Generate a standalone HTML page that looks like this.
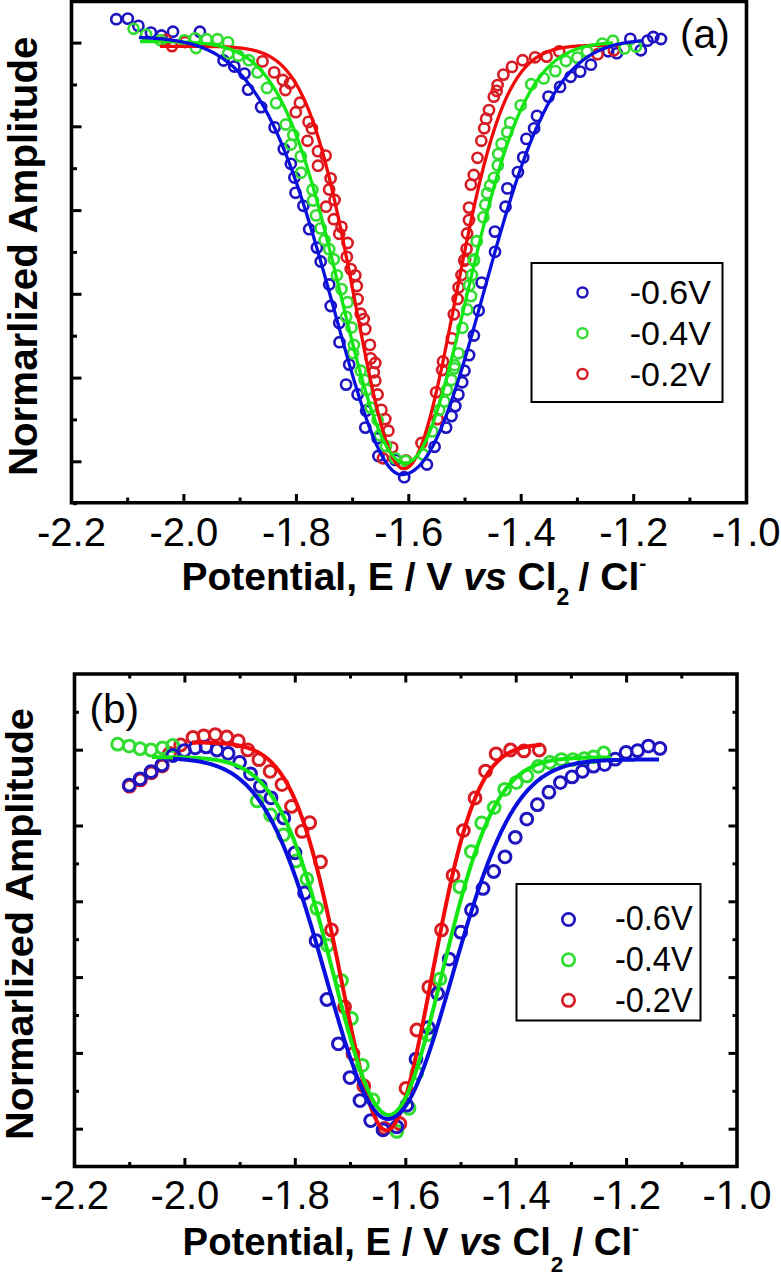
<!DOCTYPE html>
<html><head><meta charset="utf-8"><style>html,body{margin:0;padding:0;background:#fff;}svg{display:block;}text{font-family:"Liberation Sans",sans-serif;}</style></head><body>
<svg width="781" height="1280" viewBox="0 0 781 1280" font-family="Liberation Sans, sans-serif">
<g>
<rect width="781" height="1280" fill="#fff"/>
<g fill="none" stroke="#1e14c0" stroke-width="2.6"><circle cx="116.3" cy="19.2" r="5.1"/><circle cx="127.8" cy="18.6" r="5.1"/><circle cx="138.4" cy="25.9" r="5.1"/><circle cx="150.9" cy="32.6" r="5.1"/><circle cx="161.5" cy="35.5" r="5.1"/><circle cx="173.0" cy="31.7" r="5.1"/><circle cx="199.9" cy="31.7" r="5.1"/><circle cx="223.6" cy="60.5" r="5.1"/><circle cx="234.3" cy="66.5" r="5.1"/><circle cx="244.5" cy="73.6" r="5.1"/><circle cx="248.1" cy="89.6" r="5.1"/><circle cx="261.1" cy="107.1" r="5.1"/><circle cx="274.6" cy="127.4" r="5.1"/><circle cx="283.8" cy="149.1" r="5.1"/><circle cx="290.8" cy="163.8" r="5.1"/><circle cx="294.4" cy="177.5" r="5.1"/><circle cx="295.5" cy="192.8" r="5.1"/><circle cx="303.4" cy="205.8" r="5.1"/><circle cx="309.2" cy="229.2" r="5.1"/><circle cx="316.9" cy="247.6" r="5.1"/><circle cx="320.7" cy="261.5" r="5.1"/><circle cx="329.2" cy="284.5" r="5.1"/><circle cx="330.7" cy="306.0" r="5.1"/><circle cx="339.2" cy="322.9" r="5.1"/><circle cx="339.5" cy="342.2" r="5.1"/><circle cx="349.2" cy="364.6" r="5.1"/><circle cx="346.1" cy="384.6" r="5.1"/><circle cx="357.6" cy="394.5" r="5.1"/><circle cx="366.1" cy="410.7" r="5.1"/><circle cx="365.3" cy="427.6" r="5.1"/><circle cx="377.6" cy="438.3" r="5.1"/><circle cx="378.4" cy="456.0" r="5.1"/><circle cx="395.3" cy="459.9" r="5.1"/><circle cx="404.2" cy="477.2" r="5.1"/><circle cx="426.9" cy="464.5" r="5.1"/><circle cx="434.6" cy="446.8" r="5.1"/><circle cx="446.1" cy="427.6" r="5.1"/><circle cx="451.5" cy="416.1" r="5.1"/><circle cx="455.3" cy="406.1" r="5.1"/><circle cx="458.4" cy="394.6" r="5.1"/><circle cx="462.2" cy="382.3" r="5.1"/><circle cx="464.5" cy="370.7" r="5.1"/><circle cx="469.1" cy="355.1" r="5.1"/><circle cx="473.9" cy="335.5" r="5.1"/><circle cx="478.7" cy="310.5" r="5.1"/><circle cx="481.6" cy="282.6" r="5.1"/><circle cx="495.0" cy="251.8" r="5.1"/><circle cx="494.9" cy="231.6" r="5.1"/><circle cx="505.5" cy="206.7" r="5.1"/><circle cx="507.4" cy="188.4" r="5.1"/><circle cx="517.9" cy="172.1" r="5.1"/><circle cx="523.2" cy="157.4" r="5.1"/><circle cx="526.4" cy="138.9" r="5.1"/><circle cx="534.1" cy="128.3" r="5.1"/><circle cx="537.0" cy="115.9" r="5.1"/><circle cx="548.5" cy="96.6" r="5.1"/><circle cx="560.1" cy="86.9" r="5.1"/><circle cx="570.6" cy="76.8" r="5.1"/><circle cx="580.2" cy="71.6" r="5.1"/><circle cx="590.9" cy="64.7" r="5.1"/><circle cx="608.2" cy="51.3" r="5.1"/><circle cx="616.8" cy="53.2" r="5.1"/><circle cx="630.3" cy="38.8" r="5.1"/><circle cx="640.8" cy="50.3" r="5.1"/><circle cx="647.5" cy="40.7" r="5.1"/><circle cx="653.3" cy="37.0" r="5.1"/><circle cx="661.0" cy="39.0" r="5.1"/></g>
<g fill="none" stroke="#d81c24" stroke-width="2.6"><circle cx="166.0" cy="40.0" r="5.1"/><circle cx="172.0" cy="46.1" r="5.1"/><circle cx="185.0" cy="42.0" r="5.1"/><circle cx="262.5" cy="61.4" r="5.1"/><circle cx="274.2" cy="72.4" r="5.1"/><circle cx="282.8" cy="80.0" r="5.1"/><circle cx="290.2" cy="83.1" r="5.1"/><circle cx="285.4" cy="90.0" r="5.1"/><circle cx="299.9" cy="102.7" r="5.1"/><circle cx="295.8" cy="112.2" r="5.1"/><circle cx="308.5" cy="121.9" r="5.1"/><circle cx="311.9" cy="128.4" r="5.1"/><circle cx="307.5" cy="140.8" r="5.1"/><circle cx="318.0" cy="151.2" r="5.1"/><circle cx="325.6" cy="155.6" r="5.1"/><circle cx="318.0" cy="165.7" r="5.1"/><circle cx="330.6" cy="178.3" r="5.1"/><circle cx="329.1" cy="189.5" r="5.1"/><circle cx="334.6" cy="200.0" r="5.1"/><circle cx="326.0" cy="206.7" r="5.1"/><circle cx="333.8" cy="219.2" r="5.1"/><circle cx="341.5" cy="226.9" r="5.1"/><circle cx="339.2" cy="233.8" r="5.1"/><circle cx="347.6" cy="243.0" r="5.1"/><circle cx="346.8" cy="256.9" r="5.1"/><circle cx="350.7" cy="269.1" r="5.1"/><circle cx="355.3" cy="275.3" r="5.1"/><circle cx="356.8" cy="286.0" r="5.1"/><circle cx="357.6" cy="299.1" r="5.1"/><circle cx="360.7" cy="313.7" r="5.1"/><circle cx="363.7" cy="319.1" r="5.1"/><circle cx="365.3" cy="329.1" r="5.1"/><circle cx="369.9" cy="344.9" r="5.1"/><circle cx="370.7" cy="358.4" r="5.1"/><circle cx="375.3" cy="363.0" r="5.1"/><circle cx="373.8" cy="372.3" r="5.1"/><circle cx="375.3" cy="380.7" r="5.1"/><circle cx="377.6" cy="394.5" r="5.1"/><circle cx="381.4" cy="409.9" r="5.1"/><circle cx="385.3" cy="419.1" r="5.1"/><circle cx="388.4" cy="430.7" r="5.1"/><circle cx="392.2" cy="447.6" r="5.1"/><circle cx="383.0" cy="458.3" r="5.1"/><circle cx="406.0" cy="460.3" r="5.1"/><circle cx="421.5" cy="443.0" r="5.1"/><circle cx="436.1" cy="392.3" r="5.1"/><circle cx="437.6" cy="419.1" r="5.1"/><circle cx="443.0" cy="361.5" r="5.1"/><circle cx="442.2" cy="370.0" r="5.1"/><circle cx="451.9" cy="338.3" r="5.1"/><circle cx="453.8" cy="314.3" r="5.1"/><circle cx="457.6" cy="299.0" r="5.1"/><circle cx="458.6" cy="287.4" r="5.1"/><circle cx="461.5" cy="275.0" r="5.1"/><circle cx="464.3" cy="260.6" r="5.1"/><circle cx="465.1" cy="259.5" r="5.1"/><circle cx="466.6" cy="248.9" r="5.1"/><circle cx="467.1" cy="233.5" r="5.1"/><circle cx="469.0" cy="220.1" r="5.1"/><circle cx="469.0" cy="207.6" r="5.1"/><circle cx="470.9" cy="184.6" r="5.1"/><circle cx="473.8" cy="175.0" r="5.1"/><circle cx="477.5" cy="157.8" r="5.1"/><circle cx="481.3" cy="140.8" r="5.1"/><circle cx="484.2" cy="128.3" r="5.1"/><circle cx="486.1" cy="118.7" r="5.1"/><circle cx="489.0" cy="110.1" r="5.1"/><circle cx="493.8" cy="96.7" r="5.1"/><circle cx="496.7" cy="90.9" r="5.1"/><circle cx="497.6" cy="85.1" r="5.1"/><circle cx="503.4" cy="74.6" r="5.1"/><circle cx="512.0" cy="66.9" r="5.1"/><circle cx="522.6" cy="60.2" r="5.1"/><circle cx="535.1" cy="57.3" r="5.1"/><circle cx="546.6" cy="56.6" r="5.1"/><circle cx="559.2" cy="51.4" r="5.1"/><circle cx="597.6" cy="54.2" r="5.1"/><circle cx="613.9" cy="50.3" r="5.1"/></g>
<g fill="none" stroke="#32dc32" stroke-width="2.6"><circle cx="133.6" cy="28.8" r="5.1"/><circle cx="146.1" cy="34.6" r="5.1"/><circle cx="160.5" cy="40.3" r="5.1"/><circle cx="184.5" cy="40.3" r="5.1"/><circle cx="195.1" cy="38.4" r="5.1"/><circle cx="196.0" cy="48.0" r="5.1"/><circle cx="206.6" cy="39.2" r="5.1"/><circle cx="217.5" cy="39.2" r="5.1"/><circle cx="228.0" cy="42.4" r="5.1"/><circle cx="228.1" cy="53.6" r="5.1"/><circle cx="238.3" cy="55.7" r="5.1"/><circle cx="248.9" cy="60.2" r="5.1"/><circle cx="257.5" cy="72.4" r="5.1"/><circle cx="267.0" cy="88.0" r="5.1"/><circle cx="276.1" cy="103.1" r="5.1"/><circle cx="285.7" cy="124.5" r="5.1"/><circle cx="293.3" cy="135.0" r="5.1"/><circle cx="290.8" cy="144.5" r="5.1"/><circle cx="300.8" cy="156.4" r="5.1"/><circle cx="301.0" cy="172.7" r="5.1"/><circle cx="312.5" cy="189.7" r="5.1"/><circle cx="313.0" cy="200.5" r="5.1"/><circle cx="316.1" cy="215.4" r="5.1"/><circle cx="320.7" cy="228.4" r="5.1"/><circle cx="324.6" cy="240.0" r="5.1"/><circle cx="329.2" cy="249.2" r="5.1"/><circle cx="333.8" cy="259.2" r="5.1"/><circle cx="336.9" cy="275.3" r="5.1"/><circle cx="341.5" cy="289.1" r="5.1"/><circle cx="347.6" cy="302.2" r="5.1"/><circle cx="346.1" cy="316.8" r="5.1"/><circle cx="351.5" cy="327.5" r="5.1"/><circle cx="353.9" cy="345.0" r="5.1"/><circle cx="353.0" cy="353.1" r="5.1"/><circle cx="360.7" cy="370.7" r="5.1"/><circle cx="364.5" cy="380.0" r="5.1"/><circle cx="366.8" cy="389.9" r="5.1"/><circle cx="370.7" cy="407.6" r="5.1"/><circle cx="377.6" cy="419.9" r="5.1"/><circle cx="379.9" cy="435.3" r="5.1"/><circle cx="386.0" cy="446.0" r="5.1"/><circle cx="395.3" cy="458.3" r="5.1"/><circle cx="405.7" cy="461.0" r="5.1"/><circle cx="423.0" cy="454.5" r="5.1"/><circle cx="432.3" cy="431.4" r="5.1"/><circle cx="439.2" cy="410.0" r="5.1"/><circle cx="444.5" cy="401.5" r="5.1"/><circle cx="446.9" cy="390.0" r="5.1"/><circle cx="451.5" cy="380.0" r="5.1"/><circle cx="454.5" cy="368.4" r="5.1"/><circle cx="458.5" cy="353.3" r="5.1"/><circle cx="454.7" cy="365.2" r="5.1"/><circle cx="462.4" cy="327.8" r="5.1"/><circle cx="467.2" cy="309.5" r="5.1"/><circle cx="471.1" cy="296.1" r="5.1"/><circle cx="469.1" cy="285.5" r="5.1"/><circle cx="472.0" cy="275.0" r="5.1"/><circle cx="473.9" cy="260.6" r="5.1"/><circle cx="473.8" cy="259.5" r="5.1"/><circle cx="476.7" cy="241.2" r="5.1"/><circle cx="483.4" cy="217.2" r="5.1"/><circle cx="485.3" cy="204.7" r="5.1"/><circle cx="487.2" cy="193.2" r="5.1"/><circle cx="490.1" cy="185.5" r="5.1"/><circle cx="493.9" cy="177.8" r="5.1"/><circle cx="497.8" cy="165.4" r="5.1"/><circle cx="498.2" cy="154.0" r="5.1"/><circle cx="501.5" cy="143.7" r="5.1"/><circle cx="507.2" cy="132.2" r="5.1"/><circle cx="510.1" cy="122.6" r="5.1"/><circle cx="520.7" cy="105.3" r="5.1"/><circle cx="531.2" cy="84.2" r="5.1"/><circle cx="543.7" cy="78.4" r="5.1"/><circle cx="555.3" cy="71.1" r="5.1"/><circle cx="565.9" cy="61.0" r="5.1"/><circle cx="577.4" cy="57.6" r="5.1"/><circle cx="587.0" cy="51.4" r="5.1"/><circle cx="602.4" cy="43.6" r="5.1"/><circle cx="613.0" cy="40.7" r="5.1"/><circle cx="624.5" cy="48.4" r="5.1"/><circle cx="636.0" cy="46.5" r="5.1"/></g>
<path d="M160.0,46.3 L161.0,46.3 L162.0,46.3 L163.0,46.3 L164.0,46.3 L165.0,46.3 L166.0,46.3 L167.0,46.3 L168.0,46.3 L169.0,46.3 L170.0,46.3 L171.0,46.3 L172.0,46.3 L173.0,46.3 L174.0,46.3 L175.0,46.3 L176.0,46.3 L177.0,46.3 L178.0,46.3 L179.0,46.3 L180.0,46.3 L181.0,46.3 L182.0,46.3 L183.0,46.3 L184.0,46.3 L185.0,46.3 L186.0,46.3 L187.0,46.3 L188.0,46.3 L189.0,46.4 L190.0,46.4 L191.0,46.4 L192.0,46.4 L193.0,46.4 L194.0,46.4 L195.0,46.4 L196.0,46.4 L197.0,46.4 L198.0,46.4 L199.0,46.4 L200.0,46.4 L201.0,46.4 L202.0,46.4 L203.0,46.4 L204.0,46.4 L205.0,46.4 L206.0,46.5 L207.0,46.5 L208.0,46.5 L209.0,46.5 L210.0,46.5 L211.0,46.5 L212.0,46.5 L213.0,46.6 L214.0,46.6 L215.0,46.6 L216.0,46.6 L217.0,46.6 L218.0,46.7 L219.0,46.7 L220.0,46.7 L221.0,46.7 L222.0,46.8 L223.0,46.8 L224.0,46.9 L225.0,46.9 L226.0,46.9 L227.0,47.0 L228.0,47.0 L229.0,47.1 L230.0,47.1 L231.0,47.2 L232.0,47.3 L233.0,47.3 L234.0,47.4 L235.0,47.5 L236.0,47.6 L237.0,47.7 L238.0,47.8 L239.0,47.9 L240.0,48.0 L241.0,48.1 L242.0,48.2 L243.0,48.3 L244.0,48.5 L245.0,48.6 L246.0,48.8 L247.0,48.9 L248.0,49.1 L249.0,49.3 L250.0,49.5 L251.0,49.7 L252.0,49.9 L253.0,50.1 L254.0,50.4 L255.0,50.6 L256.0,50.9 L257.0,51.2 L258.0,51.5 L259.0,51.8 L260.0,52.1 L261.0,52.5 L262.0,52.8 L263.0,53.2 L264.0,53.6 L265.0,54.1 L266.0,54.5 L267.0,55.0 L268.0,55.5 L269.0,56.0 L270.0,56.6 L271.0,57.2 L272.0,57.8 L273.0,58.4 L274.0,59.1 L275.0,59.8 L276.0,60.5 L277.0,61.2 L278.0,62.0 L279.0,62.9 L280.0,63.7 L281.0,64.7 L282.0,65.6 L283.0,66.6 L284.0,67.6 L285.0,68.7 L286.0,69.8 L287.0,71.0 L288.0,72.2 L289.0,73.5 L290.0,74.8 L291.0,76.1 L292.0,77.5 L293.0,79.0 L294.0,80.5 L295.0,82.1 L296.0,83.8 L297.0,85.5 L298.0,87.2 L299.0,89.0 L300.0,90.9 L301.0,92.9 L302.0,94.9 L303.0,96.9 L304.0,99.1 L305.0,101.3 L306.0,103.6 L307.0,105.9 L308.0,108.4 L309.0,110.9 L310.0,113.4 L311.0,116.1 L312.0,118.8 L313.0,121.6 L314.0,124.5 L315.0,127.4 L316.0,130.4 L317.0,133.5 L318.0,136.7 L319.0,140.0 L320.0,143.3 L321.0,146.7 L322.0,150.2 L323.0,153.8 L324.0,157.4 L325.0,161.2 L326.0,165.0 L327.0,168.8 L328.0,172.8 L329.0,176.8 L330.0,180.9 L331.0,185.1 L332.0,189.3 L333.0,193.6 L334.0,198.0 L335.0,202.4 L336.0,207.0 L337.0,211.5 L338.0,216.2 L339.0,220.8 L340.0,225.6 L341.0,230.4 L342.0,235.2 L343.0,240.1 L344.0,245.1 L345.0,250.1 L346.0,255.1 L347.0,260.2 L348.0,265.3 L349.0,270.4 L350.0,275.5 L351.0,280.7 L352.0,285.9 L353.0,291.1 L354.0,296.3 L355.0,301.5 L356.0,306.8 L357.0,312.0 L358.0,317.2 L359.0,322.4 L360.0,327.6 L361.0,332.7 L362.0,337.9 L363.0,343.0 L364.0,348.1 L365.0,353.1 L366.0,358.1 L367.0,363.0 L368.0,367.9 L369.0,372.7 L370.0,377.5 L371.0,382.2 L372.0,386.8 L373.0,391.3 L374.0,395.8 L375.0,400.2 L376.0,404.4 L377.0,408.6 L378.0,412.7 L379.0,416.6 L380.0,420.5 L381.0,424.2 L382.0,427.8 L383.0,431.3 L384.0,434.6 L385.0,437.8 L386.0,440.9 L387.0,443.8 L388.0,446.6 L389.0,449.2 L390.0,451.7 L391.0,454.0 L392.0,456.2 L393.0,458.2 L394.0,460.0 L395.0,461.7 L396.0,463.2 L397.0,464.5 L398.0,465.6 L399.0,466.6 L400.0,467.4 L401.0,468.0 L402.0,468.4 L403.0,468.7 L404.0,468.7 L405.0,468.6 L406.0,468.4 L407.0,468.0 L408.0,467.4 L409.0,466.7 L410.0,465.9 L411.0,464.8 L412.0,463.7 L413.0,462.3 L414.0,460.9 L415.0,459.2 L416.0,457.4 L417.0,455.5 L418.0,453.4 L419.0,451.2 L420.0,448.8 L421.0,446.3 L422.0,443.6 L423.0,440.8 L424.0,437.9 L425.0,434.8 L426.0,431.6 L427.0,428.3 L428.0,424.9 L429.0,421.3 L430.0,417.6 L431.0,413.8 L432.0,409.9 L433.0,405.9 L434.0,401.8 L435.0,397.7 L436.0,393.4 L437.0,389.0 L438.0,384.6 L439.0,380.0 L440.0,375.4 L441.0,370.8 L442.0,366.0 L443.0,361.3 L444.0,356.4 L445.0,351.5 L446.0,346.6 L447.0,341.6 L448.0,336.6 L449.0,331.5 L450.0,326.5 L451.0,321.4 L452.0,316.2 L453.0,311.1 L454.0,306.0 L455.0,300.8 L456.0,295.7 L457.0,290.5 L458.0,285.4 L459.0,280.3 L460.0,275.2 L461.0,270.1 L462.0,265.0 L463.0,260.0 L464.0,255.0 L465.0,250.0 L466.0,245.0 L467.0,240.1 L468.0,235.3 L469.0,230.4 L470.0,225.7 L471.0,220.9 L472.0,216.3 L473.0,211.7 L474.0,207.1 L475.0,202.6 L476.0,198.2 L477.0,193.8 L478.0,189.5 L479.0,185.2 L480.0,181.1 L481.0,177.0 L482.0,172.9 L483.0,169.0 L484.0,165.1 L485.0,161.3 L486.0,157.5 L487.0,153.9 L488.0,150.3 L489.0,146.7 L490.0,143.3 L491.0,139.9 L492.0,136.7 L493.0,133.5 L494.0,130.3 L495.0,127.3 L496.0,124.3 L497.0,121.4 L498.0,118.6 L499.0,115.8 L500.0,113.1 L501.0,110.5 L502.0,108.0 L503.0,105.5 L504.0,103.2 L505.0,100.8 L506.0,98.6 L507.0,96.4 L508.0,94.3 L509.0,92.3 L510.0,90.3 L511.0,88.4 L512.0,86.5 L513.0,84.8 L514.0,83.0 L515.0,81.4 L516.0,79.8 L517.0,78.2 L518.0,76.7 L519.0,75.3 L520.0,73.9 L521.0,72.6 L522.0,71.3 L523.0,70.0 L524.0,68.9 L525.0,67.7 L526.0,66.6 L527.0,65.6 L528.0,64.6 L529.0,63.6 L530.0,62.7 L531.0,61.8 L532.0,61.0 L533.0,60.1 L534.0,59.4 L535.0,58.6 L536.0,57.9 L537.0,57.2 L538.0,56.6 L539.0,56.0 L540.0,55.4 L541.0,54.8 L542.0,54.3 L543.0,53.8 L544.0,53.3 L545.0,52.9 L546.0,52.4 L547.0,52.0 L548.0,51.6 L549.0,51.2 L550.0,50.9 L551.0,50.6 L552.0,50.2 L553.0,49.9 L554.0,49.6 L555.0,49.4 L556.0,49.1 L557.0,48.9 L558.0,48.7 L559.0,48.4 L560.0,48.2 L561.0,48.0 L562.0,47.9 L563.0,47.7 L564.0,47.5 L565.0,47.4 L566.0,47.2 L567.0,47.1 L568.0,47.0 L569.0,46.8 L570.0,46.7 L571.0,46.6 L572.0,46.5 L573.0,46.4 L574.0,46.3 L575.0,46.3 L576.0,46.2 L577.0,46.1 L578.0,46.0 L579.0,46.0 L580.0,45.9 L581.0,45.9 L582.0,45.8 L583.0,45.8 L584.0,45.7 L585.0,45.7 L586.0,45.6 L587.0,45.6 L588.0,45.6 L589.0,45.5 L590.0,45.5 L591.0,45.5 L592.0,45.5 L593.0,45.4 L594.0,45.4 L595.0,45.4 L596.0,45.4 L597.0,45.4 L598.0,45.3 L599.0,45.3 L600.0,45.3 L601.0,45.3 L602.0,45.3 L603.0,45.3 L604.0,45.3 L605.0,45.3 L606.0,45.2 L607.0,45.2" fill="none" stroke="#f00a0a" stroke-width="3.3" stroke-linejoin="round" stroke-linecap="butt"/>
<path d="M140.0,41.5 L141.0,41.5 L142.0,41.5 L143.0,41.5 L144.0,41.5 L145.0,41.5 L146.0,41.5 L147.0,41.5 L148.0,41.5 L149.0,41.5 L150.0,41.5 L151.0,41.5 L152.0,41.5 L153.0,41.5 L154.0,41.5 L155.0,41.5 L156.0,41.6 L157.0,41.6 L158.0,41.6 L159.0,41.6 L160.0,41.6 L161.0,41.6 L162.0,41.6 L163.0,41.6 L164.0,41.6 L165.0,41.6 L166.0,41.7 L167.0,41.7 L168.0,41.7 L169.0,41.7 L170.0,41.7 L171.0,41.7 L172.0,41.8 L173.0,41.8 L174.0,41.8 L175.0,41.8 L176.0,41.8 L177.0,41.9 L178.0,41.9 L179.0,41.9 L180.0,41.9 L181.0,42.0 L182.0,42.0 L183.0,42.1 L184.0,42.1 L185.0,42.1 L186.0,42.2 L187.0,42.2 L188.0,42.3 L189.0,42.3 L190.0,42.4 L191.0,42.4 L192.0,42.5 L193.0,42.5 L194.0,42.6 L195.0,42.7 L196.0,42.7 L197.0,42.8 L198.0,42.9 L199.0,43.0 L200.0,43.1 L201.0,43.2 L202.0,43.3 L203.0,43.4 L204.0,43.5 L205.0,43.6 L206.0,43.7 L207.0,43.8 L208.0,44.0 L209.0,44.1 L210.0,44.2 L211.0,44.4 L212.0,44.6 L213.0,44.7 L214.0,44.9 L215.0,45.1 L216.0,45.3 L217.0,45.5 L218.0,45.7 L219.0,45.9 L220.0,46.1 L221.0,46.4 L222.0,46.6 L223.0,46.9 L224.0,47.2 L225.0,47.5 L226.0,47.8 L227.0,48.1 L228.0,48.4 L229.0,48.7 L230.0,49.1 L231.0,49.5 L232.0,49.8 L233.0,50.2 L234.0,50.7 L235.0,51.1 L236.0,51.6 L237.0,52.0 L238.0,52.5 L239.0,53.0 L240.0,53.5 L241.0,54.1 L242.0,54.7 L243.0,55.3 L244.0,55.9 L245.0,56.5 L246.0,57.2 L247.0,57.8 L248.0,58.6 L249.0,59.3 L250.0,60.0 L251.0,60.8 L252.0,61.6 L253.0,62.5 L254.0,63.4 L255.0,64.3 L256.0,65.2 L257.0,66.2 L258.0,67.1 L259.0,68.2 L260.0,69.2 L261.0,70.3 L262.0,71.5 L263.0,72.6 L264.0,73.8 L265.0,75.0 L266.0,76.3 L267.0,77.6 L268.0,79.0 L269.0,80.4 L270.0,81.8 L271.0,83.3 L272.0,84.8 L273.0,86.3 L274.0,87.9 L275.0,89.5 L276.0,91.2 L277.0,93.0 L278.0,94.7 L279.0,96.5 L280.0,98.4 L281.0,100.3 L282.0,102.2 L283.0,104.2 L284.0,106.3 L285.0,108.4 L286.0,110.5 L287.0,112.7 L288.0,115.0 L289.0,117.2 L290.0,119.6 L291.0,122.0 L292.0,124.4 L293.0,126.9 L294.0,129.4 L295.0,132.0 L296.0,134.7 L297.0,137.3 L298.0,140.1 L299.0,142.9 L300.0,145.7 L301.0,148.6 L302.0,151.5 L303.0,154.5 L304.0,157.5 L305.0,160.6 L306.0,163.7 L307.0,166.9 L308.0,170.1 L309.0,173.4 L310.0,176.7 L311.0,180.1 L312.0,183.5 L313.0,186.9 L314.0,190.4 L315.0,193.9 L316.0,197.5 L317.0,201.1 L318.0,204.8 L319.0,208.5 L320.0,212.2 L321.0,215.9 L322.0,219.7 L323.0,223.6 L324.0,227.4 L325.0,231.3 L326.0,235.2 L327.0,239.1 L328.0,243.1 L329.0,247.1 L330.0,251.1 L331.0,255.1 L332.0,259.2 L333.0,263.2 L334.0,267.3 L335.0,271.4 L336.0,275.5 L337.0,279.6 L338.0,283.7 L339.0,287.9 L340.0,292.0 L341.0,296.1 L342.0,300.2 L343.0,304.3 L344.0,308.5 L345.0,312.6 L346.0,316.7 L347.0,320.7 L348.0,324.8 L349.0,328.9 L350.0,332.9 L351.0,336.9 L352.0,340.9 L353.0,344.8 L354.0,348.7 L355.0,352.6 L356.0,356.5 L357.0,360.3 L358.0,364.1 L359.0,367.8 L360.0,371.5 L361.0,375.2 L362.0,378.8 L363.0,382.4 L364.0,385.9 L365.0,389.3 L366.0,392.7 L367.0,396.0 L368.0,399.3 L369.0,402.5 L370.0,405.7 L371.0,408.7 L372.0,411.7 L373.0,414.7 L374.0,417.5 L375.0,420.3 L376.0,423.0 L377.0,425.6 L378.0,428.2 L379.0,430.7 L380.0,433.1 L381.0,435.4 L382.0,437.6 L383.0,439.7 L384.0,441.7 L385.0,443.7 L386.0,445.5 L387.0,447.3 L388.0,449.0 L389.0,450.6 L390.0,452.1 L391.0,453.4 L392.0,454.7 L393.0,455.9 L394.0,457.0 L395.0,458.1 L396.0,459.0 L397.0,459.8 L398.0,460.5 L399.0,461.1 L400.0,461.7 L401.0,462.1 L402.0,462.4 L403.0,462.7 L404.0,462.8 L405.0,462.9 L406.0,462.9 L407.0,462.8 L408.0,462.6 L409.0,462.3 L410.0,461.8 L411.0,461.3 L412.0,460.6 L413.0,459.9 L414.0,459.0 L415.0,458.0 L416.0,457.0 L417.0,455.8 L418.0,454.5 L419.0,453.1 L420.0,451.6 L421.0,449.9 L422.0,448.2 L423.0,446.4 L424.0,444.5 L425.0,442.5 L426.0,440.3 L427.0,438.1 L428.0,435.8 L429.0,433.4 L430.0,430.9 L431.0,428.3 L432.0,425.7 L433.0,422.9 L434.0,420.1 L435.0,417.1 L436.0,414.1 L437.0,411.0 L438.0,407.9 L439.0,404.7 L440.0,401.4 L441.0,398.0 L442.0,394.6 L443.0,391.1 L444.0,387.5 L445.0,383.9 L446.0,380.2 L447.0,376.5 L448.0,372.7 L449.0,368.9 L450.0,365.0 L451.0,361.1 L452.0,357.1 L453.0,353.1 L454.0,349.1 L455.0,345.0 L456.0,341.0 L457.0,336.8 L458.0,332.7 L459.0,328.5 L460.0,324.3 L461.0,320.1 L462.0,315.9 L463.0,311.7 L464.0,307.5 L465.0,303.2 L466.0,299.0 L467.0,294.7 L468.0,290.5 L469.0,286.2 L470.0,282.0 L471.0,277.7 L472.0,273.5 L473.0,269.3 L474.0,265.1 L475.0,260.9 L476.0,256.8 L477.0,252.6 L478.0,248.5 L479.0,244.4 L480.0,240.3 L481.0,236.3 L482.0,232.2 L483.0,228.3 L484.0,224.3 L485.0,220.4 L486.0,216.5 L487.0,212.6 L488.0,208.8 L489.0,205.0 L490.0,201.3 L491.0,197.6 L492.0,194.0 L493.0,190.4 L494.0,186.8 L495.0,183.3 L496.0,179.8 L497.0,176.4 L498.0,173.0 L499.0,169.7 L500.0,166.4 L501.0,163.2 L502.0,160.0 L503.0,156.8 L504.0,153.8 L505.0,150.7 L506.0,147.8 L507.0,144.8 L508.0,142.0 L509.0,139.2 L510.0,136.4 L511.0,133.7 L512.0,131.0 L513.0,128.4 L514.0,125.8 L515.0,123.3 L516.0,120.9 L517.0,118.5 L518.0,116.1 L519.0,113.8 L520.0,111.6 L521.0,109.4 L522.0,107.3 L523.0,105.2 L524.0,103.1 L525.0,101.1 L526.0,99.2 L527.0,97.3 L528.0,95.4 L529.0,93.6 L530.0,91.8 L531.0,90.1 L532.0,88.5 L533.0,86.8 L534.0,85.3 L535.0,83.7 L536.0,82.2 L537.0,80.8 L538.0,79.4 L539.0,78.0 L540.0,76.7 L541.0,75.4 L542.0,74.1 L543.0,72.9 L544.0,71.8 L545.0,70.6 L546.0,69.5 L547.0,68.4 L548.0,67.4 L549.0,66.4 L550.0,65.4 L551.0,64.5 L552.0,63.6 L553.0,62.7 L554.0,61.9 L555.0,61.0 L556.0,60.2 L557.0,59.5 L558.0,58.8 L559.0,58.0 L560.0,57.4 L561.0,56.7 L562.0,56.1 L563.0,55.4 L564.0,54.9 L565.0,54.3 L566.0,53.7 L567.0,53.2 L568.0,52.7 L569.0,52.2 L570.0,51.8 L571.0,51.3 L572.0,50.9 L573.0,50.5 L574.0,50.1 L575.0,49.7 L576.0,49.3 L577.0,49.0 L578.0,48.6 L579.0,48.3 L580.0,48.0 L581.0,47.7 L582.0,47.4 L583.0,47.1 L584.0,46.9 L585.0,46.6 L586.0,46.4 L587.0,46.2 L588.0,46.0 L589.0,45.8 L590.0,45.6 L591.0,45.4 L592.0,45.2 L593.0,45.0 L594.0,44.9 L595.0,44.7 L596.0,44.5 L597.0,44.4 L598.0,44.3 L599.0,44.1 L600.0,44.0 L601.0,43.9 L602.0,43.8 L603.0,43.7 L604.0,43.6 L605.0,43.5 L606.0,43.4 L607.0,43.3 L608.0,43.2 L609.0,43.2 L610.0,43.1 L611.0,43.0 L612.0,42.9 L613.0,42.9" fill="none" stroke="#14e614" stroke-width="3.3" stroke-linejoin="round" stroke-linecap="butt"/>
<path d="M139.0,37.4 L140.0,37.5 L141.0,37.5 L142.0,37.6 L143.0,37.6 L144.0,37.7 L145.0,37.7 L146.0,37.8 L147.0,37.8 L148.0,37.9 L149.0,37.9 L150.0,38.0 L151.0,38.1 L152.0,38.1 L153.0,38.2 L154.0,38.3 L155.0,38.3 L156.0,38.4 L157.0,38.5 L158.0,38.6 L159.0,38.7 L160.0,38.7 L161.0,38.8 L162.0,38.9 L163.0,39.0 L164.0,39.1 L165.0,39.3 L166.0,39.4 L167.0,39.5 L168.0,39.6 L169.0,39.7 L170.0,39.9 L171.0,40.0 L172.0,40.1 L173.0,40.3 L174.0,40.4 L175.0,40.6 L176.0,40.7 L177.0,40.9 L178.0,41.1 L179.0,41.3 L180.0,41.4 L181.0,41.6 L182.0,41.8 L183.0,42.0 L184.0,42.3 L185.0,42.5 L186.0,42.7 L187.0,42.9 L188.0,43.2 L189.0,43.4 L190.0,43.7 L191.0,43.9 L192.0,44.2 L193.0,44.5 L194.0,44.8 L195.0,45.1 L196.0,45.4 L197.0,45.7 L198.0,46.1 L199.0,46.4 L200.0,46.8 L201.0,47.1 L202.0,47.5 L203.0,47.9 L204.0,48.3 L205.0,48.7 L206.0,49.2 L207.0,49.6 L208.0,50.0 L209.0,50.5 L210.0,51.0 L211.0,51.5 L212.0,52.0 L213.0,52.5 L214.0,53.0 L215.0,53.6 L216.0,54.2 L217.0,54.8 L218.0,55.4 L219.0,56.0 L220.0,56.6 L221.0,57.3 L222.0,57.9 L223.0,58.6 L224.0,59.3 L225.0,60.1 L226.0,60.8 L227.0,61.6 L228.0,62.4 L229.0,63.2 L230.0,64.0 L231.0,64.8 L232.0,65.7 L233.0,66.6 L234.0,67.5 L235.0,68.4 L236.0,69.4 L237.0,70.4 L238.0,71.4 L239.0,72.4 L240.0,73.5 L241.0,74.6 L242.0,75.7 L243.0,76.8 L244.0,78.0 L245.0,79.2 L246.0,80.4 L247.0,81.6 L248.0,82.9 L249.0,84.2 L250.0,85.5 L251.0,86.8 L252.0,88.2 L253.0,89.6 L254.0,91.1 L255.0,92.6 L256.0,94.1 L257.0,95.6 L258.0,97.2 L259.0,98.7 L260.0,100.4 L261.0,102.0 L262.0,103.7 L263.0,105.4 L264.0,107.2 L265.0,109.0 L266.0,110.8 L267.0,112.7 L268.0,114.6 L269.0,116.5 L270.0,118.4 L271.0,120.4 L272.0,122.5 L273.0,124.5 L274.0,126.6 L275.0,128.8 L276.0,130.9 L277.0,133.1 L278.0,135.4 L279.0,137.6 L280.0,139.9 L281.0,142.3 L282.0,144.7 L283.0,147.1 L284.0,149.5 L285.0,152.0 L286.0,154.5 L287.0,157.1 L288.0,159.7 L289.0,162.3 L290.0,164.9 L291.0,167.6 L292.0,170.4 L293.0,173.1 L294.0,175.9 L295.0,178.7 L296.0,181.6 L297.0,184.5 L298.0,187.4 L299.0,190.4 L300.0,193.4 L301.0,196.4 L302.0,199.4 L303.0,202.5 L304.0,205.6 L305.0,208.8 L306.0,212.0 L307.0,215.2 L308.0,218.4 L309.0,221.6 L310.0,224.9 L311.0,228.2 L312.0,231.5 L313.0,234.9 L314.0,238.3 L315.0,241.7 L316.0,245.1 L317.0,248.5 L318.0,252.0 L319.0,255.5 L320.0,259.0 L321.0,262.5 L322.0,266.0 L323.0,269.6 L324.0,273.1 L325.0,276.7 L326.0,280.3 L327.0,283.9 L328.0,287.5 L329.0,291.1 L330.0,294.8 L331.0,298.4 L332.0,302.0 L333.0,305.6 L334.0,309.3 L335.0,312.9 L336.0,316.6 L337.0,320.2 L338.0,323.8 L339.0,327.4 L340.0,331.1 L341.0,334.7 L342.0,338.3 L343.0,341.9 L344.0,345.4 L345.0,349.0 L346.0,352.6 L347.0,356.1 L348.0,359.6 L349.0,363.1 L350.0,366.6 L351.0,370.0 L352.0,373.4 L353.0,376.8 L354.0,380.2 L355.0,383.5 L356.0,386.8 L357.0,390.1 L358.0,393.3 L359.0,396.5 L360.0,399.7 L361.0,402.8 L362.0,405.9 L363.0,408.9 L364.0,411.9 L365.0,414.8 L366.0,417.7 L367.0,420.5 L368.0,423.3 L369.0,426.1 L370.0,428.7 L371.0,431.3 L372.0,433.9 L373.0,436.4 L374.0,438.8 L375.0,441.2 L376.0,443.5 L377.0,445.7 L378.0,447.9 L379.0,450.0 L380.0,452.0 L381.0,454.0 L382.0,455.8 L383.0,457.6 L384.0,459.3 L385.0,461.0 L386.0,462.5 L387.0,464.0 L388.0,465.4 L389.0,466.6 L390.0,467.9 L391.0,469.0 L392.0,470.0 L393.0,470.9 L394.0,471.7 L395.0,472.5 L396.0,473.1 L397.0,473.6 L398.0,474.0 L399.0,474.3 L400.0,474.5 L401.0,474.6 L402.0,474.6 L403.0,474.5 L404.0,474.4 L405.0,474.2 L406.0,474.0 L407.0,473.8 L408.0,473.5 L409.0,473.1 L410.0,472.7 L411.0,472.2 L412.0,471.6 L413.0,471.0 L414.0,470.4 L415.0,469.6 L416.0,468.8 L417.0,468.0 L418.0,467.1 L419.0,466.1 L420.0,465.0 L421.0,463.9 L422.0,462.8 L423.0,461.5 L424.0,460.2 L425.0,458.9 L426.0,457.4 L427.0,455.9 L428.0,454.4 L429.0,452.8 L430.0,451.1 L431.0,449.3 L432.0,447.5 L433.0,445.7 L434.0,443.7 L435.0,441.8 L436.0,439.7 L437.0,437.6 L438.0,435.4 L439.0,433.2 L440.0,430.9 L441.0,428.6 L442.0,426.2 L443.0,423.8 L444.0,421.3 L445.0,418.7 L446.0,416.1 L447.0,413.5 L448.0,410.8 L449.0,408.0 L450.0,405.2 L451.0,402.4 L452.0,399.5 L453.0,396.6 L454.0,393.6 L455.0,390.6 L456.0,387.5 L457.0,384.4 L458.0,381.3 L459.0,378.1 L460.0,374.9 L461.0,371.7 L462.0,368.4 L463.0,365.1 L464.0,361.8 L465.0,358.4 L466.0,355.0 L467.0,351.6 L468.0,348.2 L469.0,344.7 L470.0,341.3 L471.0,337.8 L472.0,334.3 L473.0,330.7 L474.0,327.2 L475.0,323.6 L476.0,320.1 L477.0,316.5 L478.0,312.9 L479.0,309.3 L480.0,305.7 L481.0,302.1 L482.0,298.5 L483.0,294.9 L484.0,291.2 L485.0,287.6 L486.0,284.0 L487.0,280.4 L488.0,276.8 L489.0,273.2 L490.0,269.6 L491.0,266.0 L492.0,262.4 L493.0,258.9 L494.0,255.3 L495.0,251.8 L496.0,248.2 L497.0,244.7 L498.0,241.2 L499.0,237.8 L500.0,234.3 L501.0,230.9 L502.0,227.5 L503.0,224.1 L504.0,220.7 L505.0,217.3 L506.0,214.0 L507.0,210.7 L508.0,207.5 L509.0,204.2 L510.0,201.0 L511.0,197.8 L512.0,194.6 L513.0,191.5 L514.0,188.4 L515.0,185.3 L516.0,182.3 L517.0,179.3 L518.0,176.3 L519.0,173.4 L520.0,170.5 L521.0,167.6 L522.0,164.8 L523.0,162.0 L524.0,159.3 L525.0,156.5 L526.0,153.8 L527.0,151.2 L528.0,148.6 L529.0,146.0 L530.0,143.5 L531.0,141.0 L532.0,138.5 L533.0,136.1 L534.0,133.7 L535.0,131.3 L536.0,129.0 L537.0,126.8 L538.0,124.5 L539.0,122.3 L540.0,120.2 L541.0,118.1 L542.0,116.0 L543.0,113.9 L544.0,111.9 L545.0,110.0 L546.0,108.0 L547.0,106.1 L548.0,104.3 L549.0,102.5 L550.0,100.7 L551.0,98.9 L552.0,97.2 L553.0,95.6 L554.0,93.9 L555.0,92.3 L556.0,90.8 L557.0,89.2 L558.0,87.7 L559.0,86.3 L560.0,84.8 L561.0,83.4 L562.0,82.1 L563.0,80.7 L564.0,79.4 L565.0,78.2 L566.0,76.9 L567.0,75.7 L568.0,74.6 L569.0,73.4 L570.0,72.3 L571.0,71.2 L572.0,70.1 L573.0,69.1 L574.0,68.1 L575.0,67.1 L576.0,66.2 L577.0,65.3 L578.0,64.4 L579.0,63.5 L580.0,62.6 L581.0,61.8 L582.0,61.0 L583.0,60.2 L584.0,59.5 L585.0,58.7 L586.0,58.0 L587.0,57.3 L588.0,56.7 L589.0,56.0 L590.0,55.4 L591.0,54.8 L592.0,54.2 L593.0,53.6 L594.0,53.1 L595.0,52.6 L596.0,52.0 L597.0,51.5 L598.0,51.0 L599.0,50.6 L600.0,50.1 L601.0,49.7 L602.0,49.3 L603.0,48.9 L604.0,48.5 L605.0,48.1 L606.0,47.7 L607.0,47.4 L608.0,47.0 L609.0,46.7 L610.0,46.4 L611.0,46.1 L612.0,45.8 L613.0,45.5 L614.0,45.2 L615.0,45.0 L616.0,44.7 L617.0,44.5 L618.0,44.2 L619.0,44.0 L620.0,43.8 L621.0,43.6 L622.0,43.4 L623.0,43.2 L624.0,43.0 L625.0,42.8 L626.0,42.7 L627.0,42.5 L628.0,42.3 L629.0,42.2 L630.0,42.1 L631.0,41.9 L632.0,41.8 L633.0,41.7 L634.0,41.5 L635.0,41.4 L636.0,41.3 L637.0,41.2 L638.0,41.1 L639.0,41.0 L640.0,40.9 L641.0,40.8 L642.0,40.7" fill="none" stroke="#0a10dc" stroke-width="3.3" stroke-linejoin="round" stroke-linecap="butt"/>
<g stroke="#000" stroke-width="3" fill="none"><line x1="73" y1="43.1" x2="81.5" y2="43.1"/><line x1="73" y1="126.8" x2="81.5" y2="126.8"/><line x1="73" y1="210.6" x2="81.5" y2="210.6"/><line x1="73" y1="294.3" x2="81.5" y2="294.3"/><line x1="73" y1="378.1" x2="81.5" y2="378.1"/><line x1="73" y1="461.8" x2="81.5" y2="461.8"/><line x1="73" y1="85.0" x2="77" y2="85.0"/><line x1="73" y1="168.7" x2="77" y2="168.7"/><line x1="73" y1="252.4" x2="77" y2="252.4"/><line x1="73" y1="336.2" x2="77" y2="336.2"/><line x1="73" y1="419.9" x2="77" y2="419.9"/><line x1="73" y1="503.7" x2="77" y2="503.7"/><line x1="183.9" y1="501.5" x2="183.9" y2="494"/><line x1="296.4" y1="501.5" x2="296.4" y2="494"/><line x1="408.8" y1="501.5" x2="408.8" y2="494"/><line x1="521.2" y1="501.5" x2="521.2" y2="494"/><line x1="633.7" y1="501.5" x2="633.7" y2="494"/><line x1="127.7" y1="501.5" x2="127.7" y2="497.5"/><line x1="240.1" y1="501.5" x2="240.1" y2="497.5"/><line x1="352.6" y1="501.5" x2="352.6" y2="497.5"/><line x1="465.0" y1="501.5" x2="465.0" y2="497.5"/><line x1="577.4" y1="501.5" x2="577.4" y2="497.5"/><line x1="689.9" y1="501.5" x2="689.9" y2="497.5"/></g>
<path d="M71.5,1.5 L746.5,1.5 L746.5,502.8 L71.5,502.8 Z" fill="none" stroke="#000" stroke-width="3.6"/>
<rect x="531.5" y="263" width="191" height="139" fill="#fff" stroke="#000" stroke-width="2"/><circle cx="582.5" cy="292.5" r="5.0" fill="none" stroke="#1e14c0" stroke-width="2.4"/><text x="629.7" y="304" font-size="34">-0.6V</text><circle cx="582.5" cy="333.2" r="5.0" fill="none" stroke="#32dc32" stroke-width="2.4"/><text x="629.7" y="344.7" font-size="34">-0.4V</text><circle cx="582.5" cy="374" r="5.0" fill="none" stroke="#d81c24" stroke-width="2.4"/><text x="629.7" y="385.5" font-size="34">-0.2V</text><text x="680" y="48.2" font-size="40.7">(a)</text>
<g font-size="40"><text x="71.5" y="545.5" text-anchor="middle">-2.2</text><text x="183.9" y="545.5" text-anchor="middle">-2.0</text><text x="296.4" y="545.5" text-anchor="middle">-1.8</text><rect x="276.42" y="541.98" width="8.72" height="5.02" fill="#fff"/><rect x="288.70" y="541.98" width="8.00" height="5.02" fill="#fff"/><text x="408.8" y="545.5" text-anchor="middle">-1.6</text><rect x="388.85" y="541.98" width="8.72" height="5.02" fill="#fff"/><rect x="401.13" y="541.98" width="8.00" height="5.02" fill="#fff"/><text x="521.2" y="545.5" text-anchor="middle">-1.4</text><rect x="501.28" y="541.98" width="8.72" height="5.02" fill="#fff"/><rect x="513.56" y="541.98" width="8.00" height="5.02" fill="#fff"/><text x="633.7" y="545.5" text-anchor="middle">-1.2</text><rect x="613.71" y="541.98" width="8.72" height="5.02" fill="#fff"/><rect x="625.99" y="541.98" width="8.00" height="5.02" fill="#fff"/><text x="746.1" y="545.5" text-anchor="middle">-1.0</text><rect x="726.14" y="541.98" width="8.72" height="5.02" fill="#fff"/><rect x="738.42" y="541.98" width="8.00" height="5.02" fill="#fff"/></g>
<text x="181.5" y="589.5" font-weight="bold" font-size="39">Potential, E / V <tspan font-style="italic">vs</tspan> Cl<tspan font-size="23" dy="15.5">2</tspan><tspan dy="-15.5" dx="-1.5"> / Cl</tspan><tspan font-size="21" dy="-20">-</tspan></text>
<text transform="translate(36.9,256.3) rotate(-90)" text-anchor="middle" font-weight="bold" font-size="40.3">Normarlized Amplitude</text>
<g fill="none" stroke="#d81c24" stroke-width="3.0"><circle cx="129.5" cy="786.2" r="5.9"/><circle cx="140.4" cy="779.9" r="5.9"/><circle cx="151.3" cy="772.8" r="5.9"/><circle cx="162.2" cy="766.1" r="5.9"/><circle cx="169.5" cy="753.5" r="5.9"/><circle cx="180.7" cy="745.0" r="5.9"/><circle cx="193.0" cy="737.5" r="5.9"/><circle cx="203.8" cy="735.8" r="5.9"/><circle cx="215.3" cy="734.6" r="5.9"/><circle cx="226.8" cy="737.0" r="5.9"/><circle cx="238.3" cy="740.9" r="5.9"/><circle cx="247.8" cy="749.9" r="5.9"/><circle cx="258.9" cy="759.7" r="5.9"/><circle cx="270.1" cy="771.3" r="5.9"/><circle cx="282.0" cy="784.6" r="5.9"/><circle cx="291.5" cy="806.4" r="5.9"/><circle cx="309.7" cy="822.7" r="5.9"/><circle cx="302.0" cy="831.4" r="5.9"/><circle cx="320.5" cy="861.8" r="5.9"/><circle cx="331.5" cy="929.9" r="5.9"/><circle cx="344.6" cy="1006.9" r="5.9"/><circle cx="353.0" cy="1053.8" r="5.9"/><circle cx="363.8" cy="1086.0" r="5.9"/><circle cx="384.5" cy="1128.3" r="5.9"/><circle cx="399.9" cy="1123.7" r="5.9"/><circle cx="406.0" cy="1088.3" r="5.9"/><circle cx="416.8" cy="1030.0" r="5.9"/><circle cx="428.8" cy="987.2" r="5.9"/><circle cx="441.5" cy="929.9" r="5.9"/><circle cx="453.0" cy="875.3" r="5.9"/><circle cx="463.4" cy="830.6" r="5.9"/><circle cx="475.0" cy="798.0" r="5.9"/><circle cx="485.5" cy="771.1" r="5.9"/><circle cx="496.1" cy="753.8" r="5.9"/><circle cx="510.5" cy="750.0" r="5.9"/><circle cx="523.9" cy="750.9" r="5.9"/><circle cx="539.3" cy="750.0" r="5.9"/></g>
<g fill="none" stroke="#32dc32" stroke-width="3.0"><circle cx="117.7" cy="744.2" r="5.9"/><circle cx="129.2" cy="746.1" r="5.9"/><circle cx="140.1" cy="748.7" r="5.9"/><circle cx="151.0" cy="750.0" r="5.9"/><circle cx="162.5" cy="748.0" r="5.9"/><circle cx="172.7" cy="745.5" r="5.9"/><circle cx="257.2" cy="800.9" r="5.9"/><circle cx="270.6" cy="815.0" r="5.9"/><circle cx="283.4" cy="834.8" r="5.9"/><circle cx="296.0" cy="861.0" r="5.9"/><circle cx="306.9" cy="879.2" r="5.9"/><circle cx="316.9" cy="908.4" r="5.9"/><circle cx="327.6" cy="945.3" r="5.9"/><circle cx="341.5" cy="980.6" r="5.9"/><circle cx="351.5" cy="1018.4" r="5.9"/><circle cx="362.3" cy="1065.3" r="5.9"/><circle cx="373.0" cy="1099.9" r="5.9"/><circle cx="396.8" cy="1131.4" r="5.9"/><circle cx="409.1" cy="1108.3" r="5.9"/><circle cx="416.8" cy="1073.0" r="5.9"/><circle cx="427.6" cy="1034.6" r="5.9"/><circle cx="440.0" cy="979.1" r="5.9"/><circle cx="459.9" cy="886.9" r="5.9"/><circle cx="471.3" cy="851.6" r="5.9"/><circle cx="481.7" cy="822.9" r="5.9"/><circle cx="494.2" cy="807.6" r="5.9"/><circle cx="504.7" cy="789.3" r="5.9"/><circle cx="516.3" cy="782.6" r="5.9"/><circle cx="526.8" cy="775.9" r="5.9"/><circle cx="538.3" cy="766.3" r="5.9"/><circle cx="549.9" cy="762.5" r="5.9"/><circle cx="561.4" cy="759.6" r="5.9"/><circle cx="572.9" cy="759.6" r="5.9"/><circle cx="584.4" cy="758.6" r="5.9"/><circle cx="593.5" cy="756.8" r="5.9"/><circle cx="603.8" cy="753.0" r="5.9"/></g>
<g fill="none" stroke="#1e14c0" stroke-width="3.0"><circle cx="129.2" cy="785.2" r="5.9"/><circle cx="140.1" cy="778.8" r="5.9"/><circle cx="151.0" cy="771.7" r="5.9"/><circle cx="161.9" cy="765.0" r="5.9"/><circle cx="172.9" cy="755.5" r="5.9"/><circle cx="184.4" cy="750.6" r="5.9"/><circle cx="195.2" cy="747.8" r="5.9"/><circle cx="206.1" cy="746.9" r="5.9"/><circle cx="216.9" cy="750.0" r="5.9"/><circle cx="228.1" cy="753.3" r="5.9"/><circle cx="239.6" cy="762.3" r="5.9"/><circle cx="250.5" cy="773.8" r="5.9"/><circle cx="260.3" cy="786.2" r="5.9"/><circle cx="271.0" cy="797.8" r="5.9"/><circle cx="283.8" cy="817.9" r="5.9"/><circle cx="295.0" cy="852.8" r="5.9"/><circle cx="304.6" cy="893.0" r="5.9"/><circle cx="316.1" cy="940.7" r="5.9"/><circle cx="326.9" cy="999.5" r="5.9"/><circle cx="338.4" cy="1043.8" r="5.9"/><circle cx="350.0" cy="1077.6" r="5.9"/><circle cx="360.0" cy="1100.6" r="5.9"/><circle cx="370.7" cy="1120.6" r="5.9"/><circle cx="383.0" cy="1129.8" r="5.9"/><circle cx="396.8" cy="1126.8" r="5.9"/><circle cx="406.8" cy="1105.2" r="5.9"/><circle cx="416.0" cy="1059.1" r="5.9"/><circle cx="428.3" cy="1027.6" r="5.9"/><circle cx="437.6" cy="993.5" r="5.9"/><circle cx="449.2" cy="959.1" r="5.9"/><circle cx="460.7" cy="932.2" r="5.9"/><circle cx="471.5" cy="909.9" r="5.9"/><circle cx="483.0" cy="888.4" r="5.9"/><circle cx="493.7" cy="871.5" r="5.9"/><circle cx="505.0" cy="856.8" r="5.9"/><circle cx="515.3" cy="837.3" r="5.9"/><circle cx="526.8" cy="819.1" r="5.9"/><circle cx="537.4" cy="804.7" r="5.9"/><circle cx="548.9" cy="792.2" r="5.9"/><circle cx="560.4" cy="782.6" r="5.9"/><circle cx="572.0" cy="776.9" r="5.9"/><circle cx="582.4" cy="771.3" r="5.9"/><circle cx="593.5" cy="766.2" r="5.9"/><circle cx="604.6" cy="764.6" r="5.9"/><circle cx="615.3" cy="759.2" r="5.9"/><circle cx="626.1" cy="752.3" r="5.9"/><circle cx="637.6" cy="750.7" r="5.9"/><circle cx="648.4" cy="746.1" r="5.9"/><circle cx="659.9" cy="748.4" r="5.9"/></g>
<path d="M192.0,742.4 L193.0,742.4 L194.0,742.5 L195.0,742.5 L196.0,742.5 L197.0,742.5 L198.0,742.5 L199.0,742.5 L200.0,742.5 L201.0,742.5 L202.0,742.6 L203.0,742.6 L204.0,742.6 L205.0,742.6 L206.0,742.7 L207.0,742.7 L208.0,742.7 L209.0,742.7 L210.0,742.8 L211.0,742.8 L212.0,742.8 L213.0,742.9 L214.0,742.9 L215.0,743.0 L216.0,743.0 L217.0,743.1 L218.0,743.1 L219.0,743.2 L220.0,743.2 L221.0,743.3 L222.0,743.4 L223.0,743.5 L224.0,743.5 L225.0,743.6 L226.0,743.7 L227.0,743.8 L228.0,743.9 L229.0,744.0 L230.0,744.1 L231.0,744.3 L232.0,744.4 L233.0,744.5 L234.0,744.7 L235.0,744.8 L236.0,745.0 L237.0,745.2 L238.0,745.4 L239.0,745.6 L240.0,745.8 L241.0,746.0 L242.0,746.2 L243.0,746.5 L244.0,746.7 L245.0,747.0 L246.0,747.3 L247.0,747.6 L248.0,747.9 L249.0,748.3 L250.0,748.6 L251.0,749.0 L252.0,749.4 L253.0,749.8 L254.0,750.2 L255.0,750.7 L256.0,751.2 L257.0,751.7 L258.0,752.2 L259.0,752.8 L260.0,753.4 L261.0,754.0 L262.0,754.6 L263.0,755.3 L264.0,756.0 L265.0,756.7 L266.0,757.5 L267.0,758.3 L268.0,759.1 L269.0,760.0 L270.0,760.9 L271.0,761.9 L272.0,762.8 L273.0,763.9 L274.0,765.0 L275.0,766.1 L276.0,767.2 L277.0,768.5 L278.0,769.7 L279.0,771.0 L280.0,772.4 L281.0,773.8 L282.0,775.3 L283.0,776.8 L284.0,778.4 L285.0,780.0 L286.0,781.7 L287.0,783.5 L288.0,785.3 L289.0,787.1 L290.0,789.1 L291.0,791.1 L292.0,793.1 L293.0,795.3 L294.0,797.5 L295.0,799.8 L296.0,802.1 L297.0,804.5 L298.0,807.0 L299.0,809.5 L300.0,812.2 L301.0,814.9 L302.0,817.6 L303.0,820.5 L304.0,823.4 L305.0,826.4 L306.0,829.5 L307.0,832.6 L308.0,835.8 L309.0,839.1 L310.0,842.5 L311.0,846.0 L312.0,849.5 L313.0,853.1 L314.0,856.8 L315.0,860.5 L316.0,864.3 L317.0,868.2 L318.0,872.2 L319.0,876.2 L320.0,880.3 L321.0,884.5 L322.0,888.7 L323.0,893.0 L324.0,897.3 L325.0,901.8 L326.0,906.2 L327.0,910.7 L328.0,915.3 L329.0,919.9 L330.0,924.6 L331.0,929.3 L332.0,934.1 L333.0,938.9 L334.0,943.7 L335.0,948.6 L336.0,953.5 L337.0,958.4 L338.0,963.4 L339.0,968.3 L340.0,973.3 L341.0,978.3 L342.0,983.2 L343.0,988.2 L344.0,993.2 L345.0,998.2 L346.0,1003.1 L347.0,1008.0 L348.0,1013.0 L349.0,1017.8 L350.0,1022.7 L351.0,1027.5 L352.0,1032.3 L353.0,1037.0 L354.0,1041.6 L355.0,1046.2 L356.0,1050.8 L357.0,1055.2 L358.0,1059.6 L359.0,1063.9 L360.0,1068.2 L361.0,1072.3 L362.0,1076.3 L363.0,1080.2 L364.0,1084.1 L365.0,1087.8 L366.0,1091.3 L367.0,1094.8 L368.0,1098.1 L369.0,1101.3 L370.0,1104.4 L371.0,1107.3 L372.0,1110.1 L373.0,1112.7 L374.0,1115.1 L375.0,1117.4 L376.0,1119.5 L377.0,1121.5 L378.0,1123.3 L379.0,1124.8 L380.0,1126.2 L381.0,1127.5 L382.0,1128.5 L383.0,1129.3 L384.0,1129.9 L385.0,1130.3 L386.0,1130.5 L387.0,1130.4 L388.0,1130.2 L389.0,1129.8 L390.0,1129.2 L391.0,1128.4 L392.0,1127.5 L393.0,1126.4 L394.0,1125.0 L395.0,1123.6 L396.0,1121.9 L397.0,1120.0 L398.0,1118.0 L399.0,1115.8 L400.0,1113.5 L401.0,1111.0 L402.0,1108.3 L403.0,1105.4 L404.0,1102.4 L405.0,1099.3 L406.0,1096.0 L407.0,1092.5 L408.0,1089.0 L409.0,1085.2 L410.0,1081.4 L411.0,1077.4 L412.0,1073.4 L413.0,1069.2 L414.0,1064.9 L415.0,1060.5 L416.0,1056.0 L417.0,1051.4 L418.0,1046.7 L419.0,1042.0 L420.0,1037.1 L421.0,1032.3 L422.0,1027.3 L423.0,1022.3 L424.0,1017.2 L425.0,1012.1 L426.0,1007.0 L427.0,1001.8 L428.0,996.6 L429.0,991.4 L430.0,986.2 L431.0,980.9 L432.0,975.7 L433.0,970.4 L434.0,965.2 L435.0,960.0 L436.0,954.8 L437.0,949.6 L438.0,944.4 L439.0,939.3 L440.0,934.2 L441.0,929.1 L442.0,924.1 L443.0,919.1 L444.0,914.2 L445.0,909.3 L446.0,904.5 L447.0,899.8 L448.0,895.1 L449.0,890.5 L450.0,885.9 L451.0,881.4 L452.0,877.0 L453.0,872.7 L454.0,868.4 L455.0,864.3 L456.0,860.2 L457.0,856.1 L458.0,852.2 L459.0,848.4 L460.0,844.6 L461.0,840.9 L462.0,837.3 L463.0,833.8 L464.0,830.4 L465.0,827.1 L466.0,823.8 L467.0,820.7 L468.0,817.6 L469.0,814.6 L470.0,811.7 L471.0,808.9 L472.0,806.2 L473.0,803.6 L474.0,801.0 L475.0,798.5 L476.0,796.1 L477.0,793.8 L478.0,791.6 L479.0,789.4 L480.0,787.3 L481.0,785.3 L482.0,783.4 L483.0,781.5 L484.0,779.7 L485.0,778.0 L486.0,776.3 L487.0,774.7 L488.0,773.2 L489.0,771.7 L490.0,770.3 L491.0,769.0 L492.0,767.7 L493.0,766.4 L494.0,765.2 L495.0,764.1 L496.0,763.0 L497.0,762.0 L498.0,761.0 L499.0,760.1 L500.0,759.2 L501.0,758.3 L502.0,757.5 L503.0,756.7 L504.0,756.0 L505.0,755.3 L506.0,754.6 L507.0,754.0 L508.0,753.4 L509.0,752.8 L510.0,752.3 L511.0,751.8 L512.0,751.3 L513.0,750.9 L514.0,750.4 L515.0,750.0 L516.0,749.6 L517.0,749.3 L518.0,748.9 L519.0,748.6 L520.0,748.3 L521.0,748.0 L522.0,747.8 L523.0,747.5 L524.0,747.3 L525.0,747.1 L526.0,746.9 L527.0,746.7 L528.0,746.5 L529.0,746.3 L530.0,746.1 L531.0,746.0 L532.0,745.8 L533.0,745.7 L534.0,745.6 L535.0,745.5 L536.0,745.4 L537.0,745.3 L538.0,745.2 L539.0,745.1 L540.0,745.0 L541.0,744.9" fill="none" stroke="#f00a0a" stroke-width="4.0" stroke-linejoin="round" stroke-linecap="butt"/>
<path d="M152.0,757.1 L153.0,757.1 L154.0,757.1 L155.0,757.1 L156.0,757.1 L157.0,757.2 L158.0,757.2 L159.0,757.2 L160.0,757.2 L161.0,757.2 L162.0,757.2 L163.0,757.2 L164.0,757.2 L165.0,757.2 L166.0,757.2 L167.0,757.2 L168.0,757.2 L169.0,757.2 L170.0,757.2 L171.0,757.3 L172.0,757.3 L173.0,757.3 L174.0,757.3 L175.0,757.3 L176.0,757.3 L177.0,757.3 L178.0,757.4 L179.0,757.4 L180.0,757.4 L181.0,757.4 L182.0,757.4 L183.0,757.5 L184.0,757.5 L185.0,757.5 L186.0,757.6 L187.0,757.6 L188.0,757.6 L189.0,757.7 L190.0,757.7 L191.0,757.7 L192.0,757.8 L193.0,757.8 L194.0,757.9 L195.0,757.9 L196.0,758.0 L197.0,758.0 L198.0,758.1 L199.0,758.1 L200.0,758.2 L201.0,758.3 L202.0,758.4 L203.0,758.4 L204.0,758.5 L205.0,758.6 L206.0,758.7 L207.0,758.8 L208.0,758.9 L209.0,759.0 L210.0,759.1 L211.0,759.2 L212.0,759.4 L213.0,759.5 L214.0,759.6 L215.0,759.8 L216.0,759.9 L217.0,760.1 L218.0,760.3 L219.0,760.5 L220.0,760.6 L221.0,760.8 L222.0,761.0 L223.0,761.3 L224.0,761.5 L225.0,761.7 L226.0,762.0 L227.0,762.3 L228.0,762.5 L229.0,762.8 L230.0,763.1 L231.0,763.4 L232.0,763.8 L233.0,764.1 L234.0,764.5 L235.0,764.9 L236.0,765.2 L237.0,765.7 L238.0,766.1 L239.0,766.5 L240.0,767.0 L241.0,767.5 L242.0,768.0 L243.0,768.5 L244.0,769.1 L245.0,769.6 L246.0,770.2 L247.0,770.9 L248.0,771.5 L249.0,772.2 L250.0,772.9 L251.0,773.6 L252.0,774.3 L253.0,775.1 L254.0,775.9 L255.0,776.8 L256.0,777.6 L257.0,778.5 L258.0,779.5 L259.0,780.4 L260.0,781.4 L261.0,782.5 L262.0,783.5 L263.0,784.6 L264.0,785.8 L265.0,786.9 L266.0,788.1 L267.0,789.4 L268.0,790.7 L269.0,792.0 L270.0,793.4 L271.0,794.8 L272.0,796.3 L273.0,797.8 L274.0,799.3 L275.0,800.9 L276.0,802.6 L277.0,804.2 L278.0,806.0 L279.0,807.7 L280.0,809.6 L281.0,811.4 L282.0,813.4 L283.0,815.3 L284.0,817.3 L285.0,819.4 L286.0,821.5 L287.0,823.7 L288.0,825.9 L289.0,828.2 L290.0,830.5 L291.0,832.9 L292.0,835.3 L293.0,837.8 L294.0,840.3 L295.0,842.9 L296.0,845.5 L297.0,848.2 L298.0,850.9 L299.0,853.7 L300.0,856.6 L301.0,859.4 L302.0,862.4 L303.0,865.4 L304.0,868.4 L305.0,871.5 L306.0,874.6 L307.0,877.8 L308.0,881.0 L309.0,884.3 L310.0,887.6 L311.0,890.9 L312.0,894.3 L313.0,897.7 L314.0,901.2 L315.0,904.7 L316.0,908.3 L317.0,911.9 L318.0,915.5 L319.0,919.1 L320.0,922.8 L321.0,926.5 L322.0,930.2 L323.0,934.0 L324.0,937.8 L325.0,941.6 L326.0,945.4 L327.0,949.3 L328.0,953.1 L329.0,957.0 L330.0,960.9 L331.0,964.8 L332.0,968.7 L333.0,972.6 L334.0,976.4 L335.0,980.3 L336.0,984.2 L337.0,988.1 L338.0,992.0 L339.0,995.9 L340.0,999.7 L341.0,1003.6 L342.0,1007.4 L343.0,1011.2 L344.0,1014.9 L345.0,1018.7 L346.0,1022.4 L347.0,1026.0 L348.0,1029.7 L349.0,1033.2 L350.0,1036.8 L351.0,1040.3 L352.0,1043.8 L353.0,1047.2 L354.0,1050.5 L355.0,1053.8 L356.0,1057.0 L357.0,1060.2 L358.0,1063.3 L359.0,1066.3 L360.0,1069.3 L361.0,1072.2 L362.0,1075.0 L363.0,1077.8 L364.0,1080.4 L365.0,1083.0 L366.0,1085.5 L367.0,1087.9 L368.0,1090.2 L369.0,1092.4 L370.0,1094.5 L371.0,1096.6 L372.0,1098.5 L373.0,1100.3 L374.0,1102.1 L375.0,1103.7 L376.0,1105.2 L377.0,1106.6 L378.0,1107.9 L379.0,1109.1 L380.0,1110.2 L381.0,1111.2 L382.0,1112.1 L383.0,1112.8 L384.0,1113.5 L385.0,1114.0 L386.0,1114.4 L387.0,1114.7 L388.0,1114.9 L389.0,1115.0 L390.0,1114.9 L391.0,1114.7 L392.0,1114.4 L393.0,1114.0 L394.0,1113.4 L395.0,1112.7 L396.0,1111.9 L397.0,1110.9 L398.0,1109.8 L399.0,1108.6 L400.0,1107.3 L401.0,1105.9 L402.0,1104.3 L403.0,1102.6 L404.0,1100.8 L405.0,1098.9 L406.0,1096.9 L407.0,1094.8 L408.0,1092.5 L409.0,1090.2 L410.0,1087.7 L411.0,1085.2 L412.0,1082.6 L413.0,1079.8 L414.0,1077.0 L415.0,1074.1 L416.0,1071.1 L417.0,1068.0 L418.0,1064.9 L419.0,1061.6 L420.0,1058.3 L421.0,1055.0 L422.0,1051.5 L423.0,1048.0 L424.0,1044.4 L425.0,1040.8 L426.0,1037.1 L427.0,1033.4 L428.0,1029.6 L429.0,1025.8 L430.0,1021.9 L431.0,1018.1 L432.0,1014.1 L433.0,1010.2 L434.0,1006.2 L435.0,1002.2 L436.0,998.1 L437.0,994.1 L438.0,990.0 L439.0,985.9 L440.0,981.9 L441.0,977.8 L442.0,973.7 L443.0,969.6 L444.0,965.5 L445.0,961.4 L446.0,957.4 L447.0,953.3 L448.0,949.3 L449.0,945.2 L450.0,941.2 L451.0,937.2 L452.0,933.3 L453.0,929.3 L454.0,925.4 L455.0,921.6 L456.0,917.7 L457.0,913.9 L458.0,910.1 L459.0,906.4 L460.0,902.7 L461.0,899.1 L462.0,895.5 L463.0,891.9 L464.0,888.4 L465.0,884.9 L466.0,881.5 L467.0,878.1 L468.0,874.8 L469.0,871.5 L470.0,868.3 L471.0,865.1 L472.0,862.0 L473.0,858.9 L474.0,855.9 L475.0,853.0 L476.0,850.1 L477.0,847.3 L478.0,844.5 L479.0,841.8 L480.0,839.1 L481.0,836.5 L482.0,833.9 L483.0,831.4 L484.0,829.0 L485.0,826.6 L486.0,824.3 L487.0,822.0 L488.0,819.8 L489.0,817.6 L490.0,815.5 L491.0,813.4 L492.0,811.4 L493.0,809.5 L494.0,807.6 L495.0,805.7 L496.0,803.9 L497.0,802.2 L498.0,800.5 L499.0,798.9 L500.0,797.3 L501.0,795.7 L502.0,794.2 L503.0,792.8 L504.0,791.4 L505.0,790.0 L506.0,788.7 L507.0,787.4 L508.0,786.2 L509.0,785.0 L510.0,783.8 L511.0,782.7 L512.0,781.6 L513.0,780.6 L514.0,779.6 L515.0,778.6 L516.0,777.7 L517.0,776.8 L518.0,775.9 L519.0,775.1 L520.0,774.3 L521.0,773.5 L522.0,772.8 L523.0,772.0 L524.0,771.4 L525.0,770.7 L526.0,770.1 L527.0,769.5 L528.0,768.9 L529.0,768.3 L530.0,767.8 L531.0,767.3 L532.0,766.8 L533.0,766.3 L534.0,765.9 L535.0,765.4 L536.0,765.0 L537.0,764.6 L538.0,764.3 L539.0,763.9 L540.0,763.6 L541.0,763.2 L542.0,762.9 L543.0,762.6 L544.0,762.3 L545.0,762.1 L546.0,761.8 L547.0,761.6 L548.0,761.3 L549.0,761.1 L550.0,760.9 L551.0,760.7 L552.0,760.5 L553.0,760.3 L554.0,760.2 L555.0,760.0 L556.0,759.9 L557.0,759.7 L558.0,759.6 L559.0,759.4 L560.0,759.3 L561.0,759.2 L562.0,759.1 L563.0,759.0 L564.0,758.9 L565.0,758.8 L566.0,758.7 L567.0,758.6 L568.0,758.5 L569.0,758.5 L570.0,758.4 L571.0,758.3 L572.0,758.3 L573.0,758.2 L574.0,758.1 L575.0,758.1 L576.0,758.0 L577.0,758.0 L578.0,757.9 L579.0,757.9 L580.0,757.9 L581.0,757.8 L582.0,757.8 L583.0,757.8 L584.0,757.7 L585.0,757.7 L586.0,757.7 L587.0,757.6 L588.0,757.6 L589.0,757.6 L590.0,757.6 L591.0,757.6 L592.0,757.5 L593.0,757.5 L594.0,757.5 L595.0,757.5 L596.0,757.5 L597.0,757.5 L598.0,757.5 L599.0,757.4 L600.0,757.4 L601.0,757.4 L602.0,757.4 L603.0,757.4 L604.0,757.4 L605.0,757.4 L606.0,757.4 L607.0,757.4 L608.0,757.4 L609.0,757.4 L610.0,757.4 L611.0,757.4" fill="none" stroke="#14e614" stroke-width="4.0" stroke-linejoin="round" stroke-linecap="butt"/>
<path d="M173.0,758.8 L174.0,758.8 L175.0,758.9 L176.0,758.9 L177.0,759.0 L178.0,759.1 L179.0,759.1 L180.0,759.2 L181.0,759.3 L182.0,759.4 L183.0,759.4 L184.0,759.5 L185.0,759.6 L186.0,759.7 L187.0,759.8 L188.0,759.9 L189.0,760.0 L190.0,760.2 L191.0,760.3 L192.0,760.4 L193.0,760.5 L194.0,760.7 L195.0,760.8 L196.0,761.0 L197.0,761.1 L198.0,761.3 L199.0,761.5 L200.0,761.6 L201.0,761.8 L202.0,762.0 L203.0,762.2 L204.0,762.5 L205.0,762.7 L206.0,762.9 L207.0,763.2 L208.0,763.4 L209.0,763.7 L210.0,763.9 L211.0,764.2 L212.0,764.5 L213.0,764.8 L214.0,765.2 L215.0,765.5 L216.0,765.8 L217.0,766.2 L218.0,766.6 L219.0,767.0 L220.0,767.4 L221.0,767.8 L222.0,768.2 L223.0,768.7 L224.0,769.1 L225.0,769.6 L226.0,770.1 L227.0,770.7 L228.0,771.2 L229.0,771.8 L230.0,772.3 L231.0,772.9 L232.0,773.5 L233.0,774.2 L234.0,774.9 L235.0,775.5 L236.0,776.2 L237.0,777.0 L238.0,777.7 L239.0,778.5 L240.0,779.3 L241.0,780.1 L242.0,781.0 L243.0,781.9 L244.0,782.8 L245.0,783.7 L246.0,784.7 L247.0,785.7 L248.0,786.7 L249.0,787.8 L250.0,788.8 L251.0,790.0 L252.0,791.1 L253.0,792.3 L254.0,793.5 L255.0,794.7 L256.0,796.0 L257.0,797.3 L258.0,798.7 L259.0,800.0 L260.0,801.5 L261.0,802.9 L262.0,804.4 L263.0,805.9 L264.0,807.5 L265.0,809.1 L266.0,810.7 L267.0,812.4 L268.0,814.1 L269.0,815.9 L270.0,817.7 L271.0,819.5 L272.0,821.4 L273.0,823.3 L274.0,825.3 L275.0,827.3 L276.0,829.3 L277.0,831.4 L278.0,833.5 L279.0,835.7 L280.0,837.9 L281.0,840.1 L282.0,842.4 L283.0,844.7 L284.0,847.1 L285.0,849.5 L286.0,852.0 L287.0,854.4 L288.0,857.0 L289.0,859.6 L290.0,862.2 L291.0,864.8 L292.0,867.5 L293.0,870.2 L294.0,873.0 L295.0,875.8 L296.0,878.7 L297.0,881.5 L298.0,884.5 L299.0,887.4 L300.0,890.4 L301.0,893.4 L302.0,896.5 L303.0,899.6 L304.0,902.7 L305.0,905.9 L306.0,909.0 L307.0,912.3 L308.0,915.5 L309.0,918.8 L310.0,922.1 L311.0,925.4 L312.0,928.7 L313.0,932.1 L314.0,935.5 L315.0,938.9 L316.0,942.3 L317.0,945.7 L318.0,949.2 L319.0,952.6 L320.0,956.1 L321.0,959.6 L322.0,963.1 L323.0,966.6 L324.0,970.1 L325.0,973.6 L326.0,977.1 L327.0,980.7 L328.0,984.2 L329.0,987.7 L330.0,991.2 L331.0,994.7 L332.0,998.2 L333.0,1001.6 L334.0,1005.1 L335.0,1008.6 L336.0,1012.0 L337.0,1015.4 L338.0,1018.8 L339.0,1022.2 L340.0,1025.5 L341.0,1028.8 L342.0,1032.1 L343.0,1035.4 L344.0,1038.6 L345.0,1041.8 L346.0,1044.9 L347.0,1048.0 L348.0,1051.1 L349.0,1054.1 L350.0,1057.1 L351.0,1060.0 L352.0,1062.9 L353.0,1065.7 L354.0,1068.5 L355.0,1071.2 L356.0,1073.9 L357.0,1076.5 L358.0,1079.0 L359.0,1081.5 L360.0,1083.9 L361.0,1086.2 L362.0,1088.5 L363.0,1090.7 L364.0,1092.8 L365.0,1094.9 L366.0,1096.9 L367.0,1098.8 L368.0,1100.6 L369.0,1102.4 L370.0,1104.0 L371.0,1105.6 L372.0,1107.1 L373.0,1108.5 L374.0,1109.8 L375.0,1111.1 L376.0,1112.2 L377.0,1113.3 L378.0,1114.3 L379.0,1115.2 L380.0,1116.0 L381.0,1116.7 L382.0,1117.3 L383.0,1117.8 L384.0,1118.2 L385.0,1118.5 L386.0,1118.8 L387.0,1118.9 L388.0,1118.9 L389.0,1118.9 L390.0,1118.8 L391.0,1118.5 L392.0,1118.3 L393.0,1117.9 L394.0,1117.4 L395.0,1116.9 L396.0,1116.2 L397.0,1115.5 L398.0,1114.7 L399.0,1113.8 L400.0,1112.9 L401.0,1111.8 L402.0,1110.7 L403.0,1109.5 L404.0,1108.2 L405.0,1106.8 L406.0,1105.3 L407.0,1103.8 L408.0,1102.2 L409.0,1100.5 L410.0,1098.7 L411.0,1096.9 L412.0,1095.0 L413.0,1093.0 L414.0,1090.9 L415.0,1088.8 L416.0,1086.6 L417.0,1084.4 L418.0,1082.0 L419.0,1079.6 L420.0,1077.2 L421.0,1074.7 L422.0,1072.1 L423.0,1069.5 L424.0,1066.8 L425.0,1064.0 L426.0,1061.3 L427.0,1058.4 L428.0,1055.5 L429.0,1052.6 L430.0,1049.6 L431.0,1046.6 L432.0,1043.5 L433.0,1040.4 L434.0,1037.3 L435.0,1034.1 L436.0,1030.9 L437.0,1027.7 L438.0,1024.4 L439.0,1021.1 L440.0,1017.8 L441.0,1014.4 L442.0,1011.1 L443.0,1007.7 L444.0,1004.3 L445.0,1000.9 L446.0,997.5 L447.0,994.0 L448.0,990.6 L449.0,987.1 L450.0,983.6 L451.0,980.2 L452.0,976.7 L453.0,973.2 L454.0,969.8 L455.0,966.3 L456.0,962.8 L457.0,959.4 L458.0,955.9 L459.0,952.5 L460.0,949.1 L461.0,945.7 L462.0,942.3 L463.0,938.9 L464.0,935.5 L465.0,932.2 L466.0,928.8 L467.0,925.5 L468.0,922.2 L469.0,919.0 L470.0,915.7 L471.0,912.5 L472.0,909.4 L473.0,906.2 L474.0,903.1 L475.0,900.0 L476.0,896.9 L477.0,893.9 L478.0,890.9 L479.0,887.9 L480.0,885.0 L481.0,882.1 L482.0,879.2 L483.0,876.4 L484.0,873.6 L485.0,870.8 L486.0,868.1 L487.0,865.5 L488.0,862.8 L489.0,860.2 L490.0,857.7 L491.0,855.2 L492.0,852.7 L493.0,850.2 L494.0,847.8 L495.0,845.5 L496.0,843.2 L497.0,840.9 L498.0,838.7 L499.0,836.5 L500.0,834.3 L501.0,832.2 L502.0,830.1 L503.0,828.1 L504.0,826.1 L505.0,824.2 L506.0,822.3 L507.0,820.4 L508.0,818.6 L509.0,816.8 L510.0,815.0 L511.0,813.3 L512.0,811.7 L513.0,810.0 L514.0,808.4 L515.0,806.9 L516.0,805.4 L517.0,803.9 L518.0,802.5 L519.0,801.0 L520.0,799.7 L521.0,798.3 L522.0,797.0 L523.0,795.8 L524.0,794.5 L525.0,793.3 L526.0,792.2 L527.0,791.0 L528.0,789.9 L529.0,788.8 L530.0,787.8 L531.0,786.8 L532.0,785.8 L533.0,784.8 L534.0,783.9 L535.0,783.0 L536.0,782.1 L537.0,781.3 L538.0,780.5 L539.0,779.7 L540.0,778.9 L541.0,778.2 L542.0,777.4 L543.0,776.7 L544.0,776.1 L545.0,775.4 L546.0,774.8 L547.0,774.2 L548.0,773.6 L549.0,773.0 L550.0,772.5 L551.0,771.9 L552.0,771.4 L553.0,770.9 L554.0,770.4 L555.0,770.0 L556.0,769.5 L557.0,769.1 L558.0,768.7 L559.0,768.3 L560.0,767.9 L561.0,767.6 L562.0,767.2 L563.0,766.9 L564.0,766.5 L565.0,766.2 L566.0,765.9 L567.0,765.6 L568.0,765.4 L569.0,765.1 L570.0,764.8 L571.0,764.6 L572.0,764.4 L573.0,764.1 L574.0,763.9 L575.0,763.7 L576.0,763.5 L577.0,763.3 L578.0,763.1 L579.0,763.0 L580.0,762.8 L581.0,762.6 L582.0,762.5 L583.0,762.3 L584.0,762.2 L585.0,762.1 L586.0,761.9 L587.0,761.8 L588.0,761.7 L589.0,761.6 L590.0,761.5 L591.0,761.4 L592.0,761.3 L593.0,761.2 L594.0,761.1 L595.0,761.0 L596.0,760.9 L597.0,760.9 L598.0,760.8 L599.0,760.7 L600.0,760.7 L601.0,760.6 L602.0,760.5 L603.0,760.5 L604.0,760.4 L605.0,760.4 L606.0,760.3 L607.0,760.3 L608.0,760.2 L609.0,760.2 L610.0,760.2 L611.0,760.1 L612.0,760.1 L613.0,760.1 L614.0,760.0 L615.0,760.0 L616.0,760.0 L617.0,759.9 L618.0,759.9 L619.0,759.9 L620.0,759.9 L621.0,759.8 L622.0,759.8 L623.0,759.8 L624.0,759.8 L625.0,759.8 L626.0,759.8 L627.0,759.7 L628.0,759.7 L629.0,759.7 L630.0,759.7 L631.0,759.7 L632.0,759.7 L633.0,759.7 L634.0,759.7 L635.0,759.6 L636.0,759.6 L637.0,759.6 L638.0,759.6 L639.0,759.6 L640.0,759.6 L641.0,759.6 L642.0,759.6 L643.0,759.6 L644.0,759.6 L645.0,759.6 L646.0,759.6 L647.0,759.6 L648.0,759.6 L649.0,759.6 L650.0,759.6 L651.0,759.5 L652.0,759.5 L653.0,759.5 L654.0,759.5 L655.0,759.5 L656.0,759.5 L657.0,759.5 L658.0,759.5 L659.0,759.5" fill="none" stroke="#0a10dc" stroke-width="4.0" stroke-linejoin="round" stroke-linecap="butt"/>
<g stroke="#000" stroke-width="3" fill="none"><line x1="74.5" y1="750.2" x2="83.0" y2="750.2"/><line x1="737" y1="750.2" x2="728.5" y2="750.2"/><line x1="74.5" y1="826.0" x2="83.0" y2="826.0"/><line x1="737" y1="826.0" x2="728.5" y2="826.0"/><line x1="74.5" y1="901.8" x2="83.0" y2="901.8"/><line x1="737" y1="901.8" x2="728.5" y2="901.8"/><line x1="74.5" y1="977.6" x2="83.0" y2="977.6"/><line x1="737" y1="977.6" x2="728.5" y2="977.6"/><line x1="74.5" y1="1053.4" x2="83.0" y2="1053.4"/><line x1="737" y1="1053.4" x2="728.5" y2="1053.4"/><line x1="74.5" y1="1129.2" x2="83.0" y2="1129.2"/><line x1="737" y1="1129.2" x2="728.5" y2="1129.2"/><line x1="74.5" y1="712.3" x2="79.0" y2="712.3"/><line x1="737" y1="712.3" x2="732.5" y2="712.3"/><line x1="74.5" y1="788.1" x2="79.0" y2="788.1"/><line x1="737" y1="788.1" x2="732.5" y2="788.1"/><line x1="74.5" y1="863.9" x2="79.0" y2="863.9"/><line x1="737" y1="863.9" x2="732.5" y2="863.9"/><line x1="74.5" y1="939.7" x2="79.0" y2="939.7"/><line x1="737" y1="939.7" x2="732.5" y2="939.7"/><line x1="74.5" y1="1015.5" x2="79.0" y2="1015.5"/><line x1="737" y1="1015.5" x2="732.5" y2="1015.5"/><line x1="74.5" y1="1091.3" x2="79.0" y2="1091.3"/><line x1="737" y1="1091.3" x2="732.5" y2="1091.3"/><line x1="184.9" y1="1166.5" x2="184.9" y2="1158.0"/><line x1="184.9" y1="674" x2="184.9" y2="682.5"/><line x1="295.3" y1="1166.5" x2="295.3" y2="1158.0"/><line x1="295.3" y1="674" x2="295.3" y2="682.5"/><line x1="405.8" y1="1166.5" x2="405.8" y2="1158.0"/><line x1="405.8" y1="674" x2="405.8" y2="682.5"/><line x1="516.2" y1="1166.5" x2="516.2" y2="1158.0"/><line x1="516.2" y1="674" x2="516.2" y2="682.5"/><line x1="626.6" y1="1166.5" x2="626.6" y2="1158.0"/><line x1="626.6" y1="674" x2="626.6" y2="682.5"/><line x1="129.7" y1="1166.5" x2="129.7" y2="1162.0"/><line x1="129.7" y1="674" x2="129.7" y2="678.5"/><line x1="240.1" y1="1166.5" x2="240.1" y2="1162.0"/><line x1="240.1" y1="674" x2="240.1" y2="678.5"/><line x1="350.5" y1="1166.5" x2="350.5" y2="1162.0"/><line x1="350.5" y1="674" x2="350.5" y2="678.5"/><line x1="461.0" y1="1166.5" x2="461.0" y2="1162.0"/><line x1="461.0" y1="674" x2="461.0" y2="678.5"/><line x1="571.4" y1="1166.5" x2="571.4" y2="1162.0"/><line x1="571.4" y1="674" x2="571.4" y2="678.5"/><line x1="681.8" y1="1166.5" x2="681.8" y2="1162.0"/><line x1="681.8" y1="674" x2="681.8" y2="678.5"/></g>
<path d="M74.5,674 L737,674 L737,1166.5 L74.5,1166.5 Z" fill="none" stroke="#000" stroke-width="3.6"/>
<rect x="516.5" y="884" width="184" height="136.5" fill="#fff" stroke="#000" stroke-width="2"/><circle cx="568.5" cy="919.5" r="6.2" fill="none" stroke="#1e14c0" stroke-width="2.7"/><text x="614.9" y="930.2" font-size="34.5" textLength="77.8" lengthAdjust="spacingAndGlyphs">-0.6V</text><circle cx="568.5" cy="959.8" r="6.2" fill="none" stroke="#32dc32" stroke-width="2.7"/><text x="614.9" y="970.8" font-size="34.5" textLength="77.8" lengthAdjust="spacingAndGlyphs">-0.4V</text><circle cx="568.5" cy="1000.3" r="6.2" fill="none" stroke="#d81c24" stroke-width="2.7"/><text x="614.9" y="1011.6" font-size="34.5" textLength="77.8" lengthAdjust="spacingAndGlyphs">-0.2V</text><text x="89.4" y="723" font-size="40.7">(b)</text>
<g font-size="40"><text x="74.5" y="1209" text-anchor="middle">-2.2</text><text x="184.9" y="1209" text-anchor="middle">-2.0</text><text x="295.3" y="1209" text-anchor="middle">-1.8</text><rect x="275.39" y="1205.48" width="8.72" height="5.02" fill="#fff"/><rect x="287.67" y="1205.48" width="8.00" height="5.02" fill="#fff"/><text x="405.8" y="1209" text-anchor="middle">-1.6</text><rect x="385.81" y="1205.48" width="8.72" height="5.02" fill="#fff"/><rect x="398.09" y="1205.48" width="8.00" height="5.02" fill="#fff"/><text x="516.2" y="1209" text-anchor="middle">-1.4</text><rect x="496.23" y="1205.48" width="8.72" height="5.02" fill="#fff"/><rect x="508.51" y="1205.48" width="8.00" height="5.02" fill="#fff"/><text x="626.6" y="1209" text-anchor="middle">-1.2</text><rect x="606.64" y="1205.48" width="8.72" height="5.02" fill="#fff"/><rect x="618.92" y="1205.48" width="8.00" height="5.02" fill="#fff"/><text x="737.0" y="1209" text-anchor="middle">-1.0</text><rect x="717.06" y="1205.48" width="8.72" height="5.02" fill="#fff"/><rect x="729.34" y="1205.48" width="8.00" height="5.02" fill="#fff"/></g>
<text x="182.6" y="1254.5" font-weight="bold" font-size="38.3">Potential, E / V <tspan font-style="italic">vs</tspan> Cl<tspan font-size="22.5" dy="17">2</tspan><tspan dy="-17" dx="-1.5"> / Cl</tspan><tspan font-size="21" dy="-20">-</tspan></text>
<text transform="translate(33.1,924) rotate(-90)" text-anchor="middle" font-weight="bold" font-size="39.6">Normarlized Amplitude</text>
</g></svg>
</body></html>
